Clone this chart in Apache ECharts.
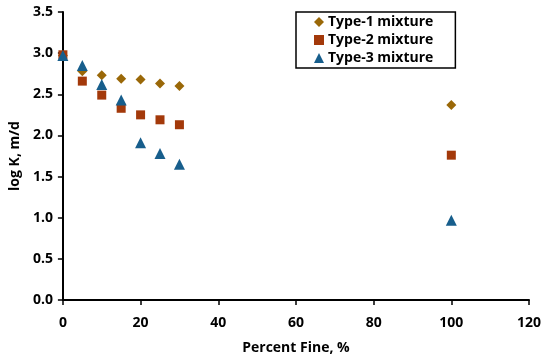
<!DOCTYPE html>
<html>
<head>
<meta charset="utf-8">
<script src="https://cdn.jsdelivr.net/npm/echarts@6/dist/echarts.min.js"></script>
<style>html,body{margin:0;padding:0;background:#fff}#c{width:550px;height:360px}</style>
</head>
<body>
<div id="c"></div>
<script>
const percentFine = [0, 5, 10, 15, 20, 25, 30, 100];
const type1 = [2.97, 2.78, 2.73, 2.69, 2.68, 2.63, 2.60, 2.37];
const type2 = [2.98, 2.66, 2.49, 2.33, 2.25, 2.19, 2.13, 1.76];
const type3 = [2.97, 2.85, 2.62, 2.43, 1.91, 1.78, 1.65, 0.97];
const seriesNames = ['Type-1 mixture', 'Type-2 mixture', 'Type-3 mixture'];
const xTitle = 'Percent Fine, %';
const yTitle = 'log K, m/d';

const font = '"Open Sans", Lato, sans-serif';
const pairs = arr => percentFine.map((x, i) => [x, arr[i]]);
const txt = { fontFamily: font, fontWeight: 'bold', fontSize: 14, color: '#000' };
const chart = echarts.init(document.getElementById('c'));
chart.setOption({
  animation: false,
  backgroundColor: '#fff',
  textStyle: { fontFamily: font },
  grid: { left: 61, right: 21, top: 12, bottom: 59 },
  legend: {
    orient: 'vertical', left: 296, top: 12,
    borderColor: '#000', borderWidth: 1.5,
    padding: [3, 22, 3, 18], itemGap: 4, itemWidth: 10, itemHeight: 10,
    textStyle: Object.assign({}, txt, { padding: [0, 0, 0, -1] }),
    data: seriesNames
  },
  xAxis: {
    type: 'value', min: 0, max: 120, interval: 20,
    name: xTitle, nameLocation: 'middle', nameGap: 41,
    nameTextStyle: txt,
    axisLine: { show: true, lineStyle: { color: '#000', width: 2 } },
    axisTick: { show: true, inside: false, length: 5, lineStyle: { color: '#000', width: 1.5 } },
    axisLabel: Object.assign({ margin: 16 }, txt),
    splitLine: { show: false }
  },
  yAxis: {
    type: 'value', min: 0, max: 3.5, interval: 0.5,
    name: yTitle, nameLocation: 'middle', nameGap: 38, nameRotate: 90,
    nameTextStyle: txt,
    axisLine: { show: true, lineStyle: { color: '#000', width: 2 } },
    axisTick: { show: true, inside: false, length: 5, lineStyle: { color: '#000', width: 1.5 } },
    axisLabel: Object.assign({ margin: 10, formatter: v => v.toFixed(1) }, txt),
    splitLine: { show: false }
  },
  series: [
    { name: seriesNames[0], type: 'scatter', symbol: 'diamond', symbolSize: 10, itemStyle: { color: '#9A6808', opacity: 1 }, data: pairs(type1), z: 2 },
    { name: seriesNames[1], type: 'scatter', symbol: 'rect', symbolSize: 9, itemStyle: { color: '#A3390A', opacity: 1 }, data: pairs(type2), z: 3 },
    { name: seriesNames[2], type: 'scatter', symbol: 'triangle', symbolSize: 11, itemStyle: { color: '#175E8C', opacity: 1 }, data: pairs(type3), z: 4 }
  ]
});
</script>
</body>
</html>
